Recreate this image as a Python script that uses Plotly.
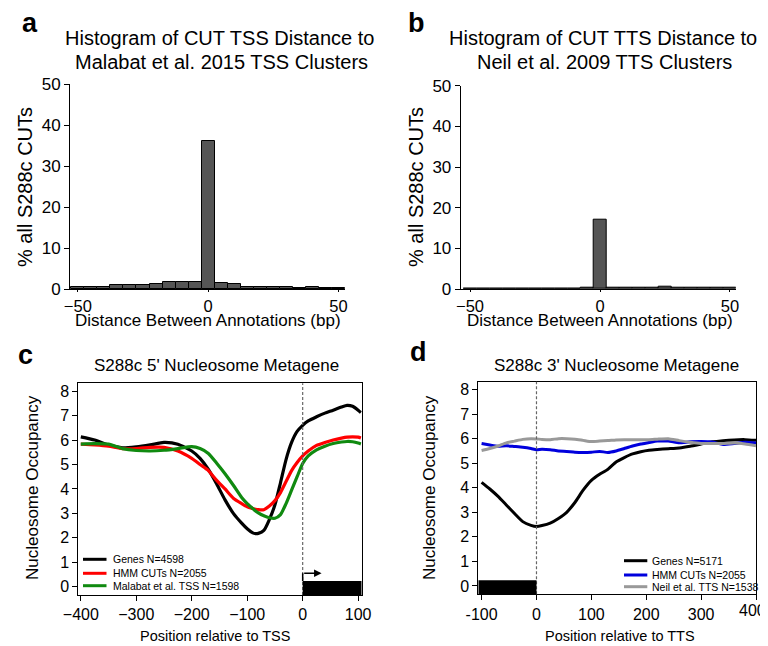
import plotly.graph_objects as go

# page is 768x646; the browser's default body margin puts the plot div at (8, 8)
PAGE_OFF = 8
W, H = 768 - PAGE_OFF, 646 - PAGE_OFF
FONT = "Liberation Sans, Arial, Helvetica, sans-serif"

# ---------------- data ----------------
hist_bins = [-50, -45, -40, -35, -30, -25, -20, -15, -10, -5, 0, 5, 10, 15, 20, 25, 30, 35, 40, 45, 50]
hist_a = [0.5, 0.5, 0.5, 0.9, 0.9, 0.9, 1.2, 1.6, 1.6, 1.6, 36, 1.4, 1.1, 0.6, 0.4, 0.4, 0.4, 0.3, 0.6, 0.2, 0.2]
hist_b = [0.15, 0.15, 0.15, 0.15, 0.15, 0.15, 0.15, 0.15, 0.15, 0.4, 17, 0.4, 0.35, 0.4, 0.4, 0.6, 0.4, 0.4, 0.4, 0.4, 0.4]

c_pos = [-400, -375, -350, -325, -300, -275, -250, -225, -200, -185, -170, -155, -140, -125, -110,
         -100, -90, -85, -80, -70, -60, -50, -40, -30, -20, -10, 0, 10, 25, 40, 55, 70, 80, 90, 100, 105]
c_genes = [6.13, 6.0, 5.8, 5.68, 5.72, 5.8, 5.9, 5.83, 5.55, 5.25, 4.8, 4.2, 3.55, 3.0, 2.6,
           2.37, 2.2, 2.17, 2.18, 2.3, 2.75, 3.35, 4.25, 5.2, 5.9, 6.35, 6.6, 6.78, 6.95, 7.1, 7.22, 7.35, 7.42, 7.38, 7.22, 7.12]
c_hmm = [5.83, 5.8, 5.75, 5.65, 5.65, 5.7, 5.7, 5.55, 5.25, 5.0, 4.75, 4.35, 4.0, 3.62, 3.4,
         3.27, 3.2, 3.17, 3.15, 3.15, 3.3, 3.52, 3.85, 4.3, 4.75, 5.08, 5.35, 5.55, 5.78, 5.9, 6.0, 6.08, 6.12, 6.13, 6.12, 6.08]
c_malabat = [5.83, 5.85, 5.83, 5.65, 5.57, 5.55, 5.58, 5.65, 5.73, 5.65, 5.45, 5.05, 4.62, 4.15, 3.65,
             3.4, 3.2, 3.1, 3.02, 2.9, 2.82, 2.8, 2.95, 3.4, 3.95, 4.5, 5.04, 5.35, 5.6, 5.75, 5.86, 5.92, 5.94, 5.93, 5.88, 5.84]

d_pos = [-100, -85, -70, -55, -40, -25, -10, 0, 10, 25, 40, 55, 70, 85, 100, 115, 130, 145, 160,
         175, 190, 205, 220, 240, 260, 280, 300, 320, 340, 360, 380, 400]
d_genes = [4.22, 3.95, 3.65, 3.3, 2.95, 2.62, 2.47, 2.42, 2.46, 2.56, 2.75, 3.0, 3.4, 3.9, 4.3, 4.55, 4.75,
           5.05, 5.23, 5.38, 5.47, 5.53, 5.56, 5.59, 5.62, 5.69, 5.78, 5.87, 5.92, 5.95, 5.96, 5.93]
d_hmm = [5.8, 5.74, 5.69, 5.71, 5.68, 5.65, 5.6, 5.55, 5.57, 5.55, 5.5, 5.48, 5.45, 5.44, 5.45, 5.48, 5.44,
         5.5, 5.6, 5.7, 5.78, 5.84, 5.9, 5.9, 5.83, 5.87, 5.88, 5.86, 5.76, 5.8, 5.85, 5.82]
d_neil = [5.52, 5.6, 5.7, 5.83, 5.9, 5.97, 6.0, 5.99, 5.97, 5.96, 6.0, 6.0, 5.98, 5.93, 5.88, 5.9, 5.92,
          5.95, 5.96, 5.96, 5.96, 5.96, 5.98, 6.0, 5.92, 5.85, 5.8, 5.8, 5.8, 5.82, 5.78, 5.71]

hist_ticks = [-50, 0, 50]
hist_yticks = [0, 10, 20, 30, 40, 50]
c_xticks = [-400, -300, -200, -100, 0, 100]
d_xticks = [-100, 0, 100, 200, 300, 400]
d_xticktext = ["-100", "0", "100", "200", "300", ""]   # last label drawn as right-aligned text below
occ_ticks = [0, 1, 2, 3, 4, 5, 6, 7, 8]

c_legend = [("Genes N=4598", "black"), ("HMM CUTs N=2055", "#ff0000"), ("Malabat et al. TSS N=1598", "#108a10")]
d_legend = [("Genes N=5171", "black"), ("HMM CUTs N=2055", "#0000dd"), ("Neil et al. TTS N=1538", "#999999")]


def px_x(p):
    return (p - PAGE_OFF) / W


def px_y(p):
    return 1 - (p - PAGE_OFF) / H


def dom_x(a, b):
    return [px_x(a), px_x(b)]


def dom_y(top, bottom):
    return [px_y(bottom), px_y(top)]


fig = go.Figure()

# histograms
fig.add_trace(go.Bar(x=hist_bins, y=hist_a, width=5, marker=dict(color="#555555", line=dict(color="black", width=1)),
                     xaxis="x", yaxis="y", showlegend=False))
fig.add_trace(go.Bar(x=hist_bins, y=hist_b, width=5, marker=dict(color="#555555", line=dict(color="black", width=1)),
                     xaxis="x2", yaxis="y2", showlegend=False))

# metagene c
for ys, (name, col) in zip([c_genes, c_hmm, c_malabat], c_legend):
    fig.add_trace(go.Scatter(x=c_pos, y=ys, mode="lines", line=dict(color=col, width=3.2, shape="spline", smoothing=0.6),
                             xaxis="x3", yaxis="y3", name=name, showlegend=False))
# metagene d
for ys, (name, col) in zip([d_genes, d_hmm, d_neil], d_legend):
    fig.add_trace(go.Scatter(x=d_pos, y=ys, mode="lines", line=dict(color=col, width=3.0, shape="spline", smoothing=0.5),
                             xaxis="x4", yaxis="y4", name=name, showlegend=False))

axis_common = dict(showgrid=False, zeroline=False, showline=True, linecolor="black", linewidth=1,
                   automargin=False, ticklabeloverflow="allow",
                   ticks="outside", ticklen=5, tickwidth=1, tickcolor="black",
                   tickfont=dict(family=FONT, size=17, color="black"))
small_tick = dict(family=FONT, size=16, color="black")
hist_xtick = dict(family=FONT, size=16.5, color="black")

# panel a/b ranges
xa_rng = [-53, 52.5]
xb_rng = [-53.6, 52.2]
occ_rng = [-0.34, 8.32]
c_rng = [-404.5, 106.4]
d_rng = [-106, 400.5]

fig.update_layout(
    width=W, height=H, margin=dict(l=0, r=0, t=0, b=0, autoexpand=False),
    paper_bgcolor="white", plot_bgcolor="white",
    bargap=0,
    xaxis=dict(axis_common, domain=dom_x(70, 345), range=xa_rng, tickvals=hist_ticks, anchor="y",
               ticklen=2, tickfont=hist_xtick),
    yaxis=dict(axis_common, domain=dom_y(84, 289), range=[0, 50], tickvals=hist_yticks, anchor="x"),
    xaxis2=dict(axis_common, domain=dom_x(460.7, 735.7), range=xb_rng, tickvals=hist_ticks, anchor="y2",
                ticklen=2, tickfont=hist_xtick),
    yaxis2=dict(axis_common, domain=dom_y(85.7, 289), range=[0, 50], tickvals=hist_yticks, anchor="x2"),
    xaxis3=dict(axis_common, domain=dom_x(78.3, 361.7), range=c_rng, tickvals=c_xticks, anchor="y3", mirror=True,
                tickfont=small_tick),
    yaxis3=dict(axis_common, domain=dom_y(383.3, 595), range=occ_rng, tickvals=occ_ticks, anchor="x3", mirror=True,
                tickfont=small_tick),
    xaxis4=dict(axis_common, domain=dom_x(478.3, 756.3), range=d_rng, tickvals=d_xticks, ticktext=d_xticktext,
                anchor="y4", mirror=True, tickfont=small_tick),
    yaxis4=dict(axis_common, domain=dom_y(381.7, 594.3), range=occ_rng, tickvals=occ_ticks, anchor="x4", mirror=True,
                tickfont=small_tick),
)

shapes = []
# dashed TSS/TTS lines
shapes.append(dict(type="line", xref="x3", yref="y3 domain", x0=0, x1=0, y0=0, y1=1,
                   line=dict(color="#666666", width=1.2, dash="3px,2px")))
shapes.append(dict(type="line", xref="x4", yref="y4 domain", x0=0, x1=0, y0=0, y1=1,
                   line=dict(color="#666666", width=1.2, dash="3px,2px")))
# gene body boxes
shapes.append(dict(type="rect", xref="x3", yref="y3", x0=0, x1=c_rng[1], y0=occ_rng[0], y1=0.23,
                   fillcolor="black", line=dict(width=0)))
shapes.append(dict(type="rect", xref="x4", yref="y4", x0=d_rng[0], x1=0, y0=occ_rng[0], y1=0.23,
                   fillcolor="black", line=dict(width=0)))
# TSS arrow stem
shapes.append(dict(type="line", xref="x3", yref="y3", x0=0, x1=0, y0=0.23, y1=0.55,
                   line=dict(color="black", width=1.5)))


# legends (manual)
def add_legend(items, line_x0, line_x1, text_x, rows_y):
    for (name, col), yy in zip(items, rows_y):
        shapes.append(dict(type="line", xref="paper", yref="paper", x0=px_x(line_x0), x1=px_x(line_x1),
                           y0=px_y(yy), y1=px_y(yy), line=dict(color=col, width=3)))
        fig.add_annotation(x=px_x(text_x), y=px_y(yy), xref="paper", yref="paper", text=name, showarrow=False,
                           xanchor="left", yanchor="middle", font=dict(family=FONT, size=10.5, color="black"))


add_legend(c_legend, 83, 106.5, 111, [559.3, 573.3, 585.7])
add_legend(d_legend, 624, 647.3, 650, [560.7, 575, 586.7])

fig.update_layout(shapes=shapes)

# arrow head for TSS
fig.add_annotation(x=34, y=0.55, ax=0, ay=0.55, xref="x3", yref="y3", axref="x3", ayref="y3", text="",
                   showarrow=True, arrowhead=2, arrowsize=1, arrowwidth=1.5, arrowcolor="black")


def txt(x, y, s, size, bold=False, angle=0, xanchor="center"):
    fig.add_annotation(x=px_x(x), y=px_y(y), xref="paper", yref="paper", text=("<b>%s</b>" % s) if bold else s,
                       showarrow=False, xanchor=xanchor, yanchor="middle", textangle=angle,
                       font=dict(family=FONT, size=size, color="black"))


# last tick label of panel d, kept inside the page edge as in the original
fig.add_annotation(x=d_xticks[-1], y=0, xref="x4", yref="y4 domain", text=str(d_xticks[-1]), showarrow=False,
                   xanchor="right", yanchor="top", xshift=12, yshift=-6,
                   font=dict(family=FONT, size=16, color="black"))

# panel letters
txt(30, 23.3, "a", 27, bold=True)
txt(416, 23.3, "b", 27, bold=True)
txt(25, 355, "c", 27, bold=True)
txt(419, 352, "d", 27, bold=True)

# histogram titles
txt(220, 38, "Histogram of CUT TSS Distance to", 20)
txt(221.5, 62, "Malabat et al. 2015 TSS Clusters", 20)
txt(603, 38, "Histogram of CUT TTS Distance to", 20)
txt(604, 62, "Neil et al. 2009 TTS Clusters", 20)

# axis titles (histograms)
txt(25, 187, "% all S288c CUTs", 20, angle=-90)
txt(416, 187, "% all S288c CUTs", 20, angle=-90)
txt(208, 320, "Distance Between Annotations (bp)", 17)
txt(600, 320, "Distance Between Annotations (bp)", 17)

# metagene titles
txt(216, 365, "S288c 5' Nucleosome Metagene", 17)
txt(616, 365, "S288c 3' Nucleosome Metagene", 17)
txt(32, 488, "Nucleosome Occupancy", 17, angle=-90)
txt(429, 488, "Nucleosome Occupancy", 17, angle=-90)
txt(215, 636, "Position relative to TSS", 14.5)
txt(620, 636, "Position relative to TTS", 14.5)

fig.write_html("out.html")
